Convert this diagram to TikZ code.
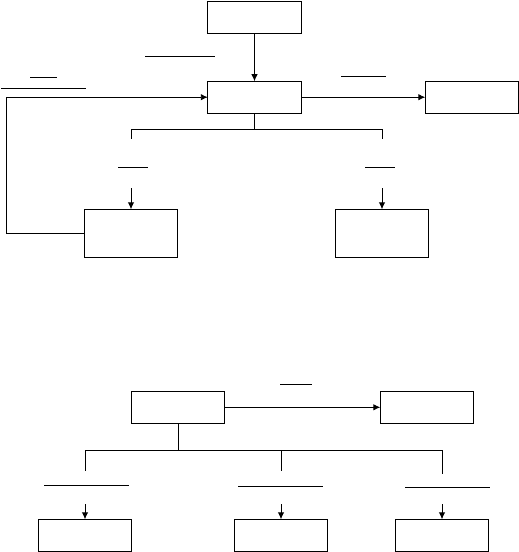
\documentclass[tikz,border=0pt]{standalone}
\usetikzlibrary{arrows.meta}
\begin{document}
\begin{tikzpicture}[x=1pt,y=-1pt,line width=0.9pt,
  box/.style={draw,minimum width=93.4pt,minimum height=32pt,inner sep=0pt,outer sep=0pt},
  tallbox/.style={box,minimum height=48pt},
  arr/.style={-{Latex[length=7pt,width=6.5pt]}},
  rule/.style={line width=0.9pt}]
\useasboundingbox (0,0) rectangle (519,552);
% top part
\node[box] (A) at (254.5,17.3) {};
\node[box] (B) at (254.5,97.2) {};
\node[box] (D) at (472,97.2) {};
\node[tallbox] (C) at (131,233.3) {};
\node[tallbox] (E) at (382,233.3) {};
\draw[arr] (A) -- (B);
\draw[arr] (B) -- (D);
\coordinate (fb) at (6.7,233.3);
\draw[arr] (C.west) -- (fb) |- (B.west);
\coordinate (bus1) at (254.5,129.3);
\coordinate (cA) at (131,138.7);
\coordinate (eA) at (382,138.7);
\coordinate (cB) at (131,188.3);
\coordinate (eB) at (382,188.3);
\draw (B.south) -- (bus1) -| (cA);
\draw (bus1) -| (eA);
\draw[arr] (cB) -- (C.north);
\draw[arr] (eB) -- (E.north);
% label rules (top)
\draw[rule] (145,56.7) -- (215,56.7);
\draw[rule] (30,77.3) -- (56.7,77.3);
\draw[rule] (1,88.3) -- (86,88.3);
\draw[rule] (341,76.3) -- (385.7,76.3);
\draw[rule] (118,167.3) -- (147.7,167.3);
\draw[rule] (365,167.3) -- (395,167.3);
% bottom part
\node[box] (F) at (178,407.3) {};
\node[box] (G) at (427,407.3) {};
\node[box] (H) at (85,535.3) {};
\node[box] (I) at (281,535.3) {};
\node[box] (J) at (442,535.3) {};
\draw[arr] (F) -- (G);
\coordinate (bus2) at (178,450.3);
\coordinate (hA) at (85,470.7);
\coordinate (iA) at (281,470.7);
\coordinate (jA) at (442,473.7);
\coordinate (hB) at (85,504.3);
\coordinate (iB) at (281,504.3);
\coordinate (jB) at (442,504.3);
\draw (F.south) -- (bus2) -| (hA);
\draw (bus2) -| (jA);
\draw (iA) -- (iA |- bus2);
\draw[arr] (hB) -- (H.north);
\draw[arr] (iB) -- (I.north);
\draw[arr] (jB) -- (J.north);
% label rules (bottom)
\draw[rule] (280,384.3) -- (312,384.3);
\draw[rule] (44,485.3) -- (129,485.3);
\draw[rule] (238,486.3) -- (322.7,486.3);
\draw[rule] (405,487.3) -- (489.7,487.3);
\end{tikzpicture}
\end{document}
